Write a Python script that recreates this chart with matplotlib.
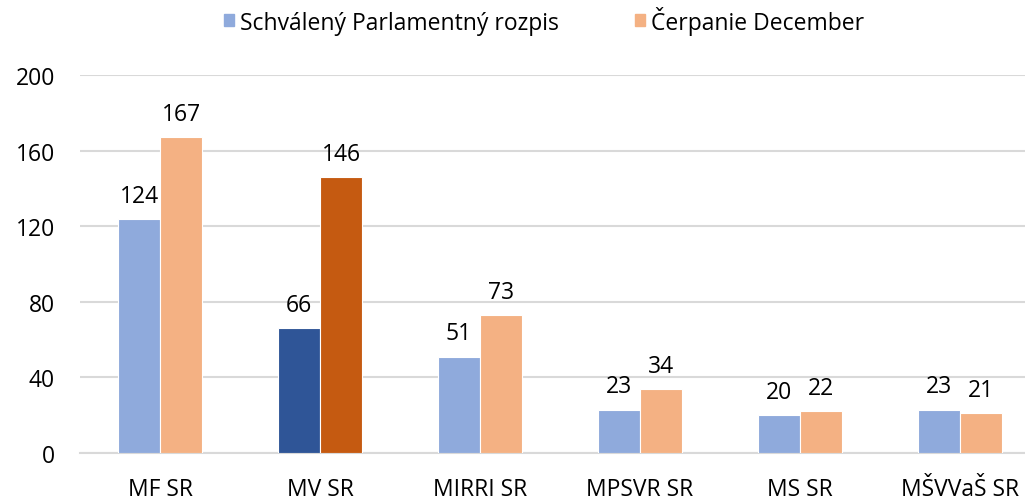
import matplotlib
matplotlib.use("Agg")
import matplotlib.pyplot as plt
import numpy as np

categories = ["MF SR", "MV SR", "MIRRI SR", "MPSVR SR", "MS SR", "MŠVVaŠ SR"]
schvaleny = [124, 66, 51, 23, 20, 23]
cerpanie = [167, 146, 73, 34, 22, 21]
series_names = ["Schválený Parlamentný rozpis", "Čerpanie December"]
yticks = [0, 40, 80, 120, 160, 200]

plt.rcParams['font.family'] = ['Open Sans', 'DejaVu Sans']

light_blue = "#8FAADC"
light_orange = "#F4B183"
dark_blue = "#2F5597"
dark_orange = "#C55A11"
FS = 16.5

fig = plt.figure(figsize=(10.25, 5.02), dpi=100)
ax = fig.add_axes([80/1025, 48/502, 945/1025, 378/502])

x = np.arange(len(categories))
w = 0.2625
c1 = [light_blue] * len(categories)
c2 = [light_orange] * len(categories)
c1[1] = dark_blue
c2[1] = dark_orange
b1 = ax.bar(x - w/2, schvaleny, w, color=c1, edgecolor="white", linewidth=0.8,
            label=series_names[0], zorder=3)
b2 = ax.bar(x + w/2, cerpanie, w, color=c2, edgecolor="white", linewidth=0.8,
            label=series_names[1], zorder=3)
for bars in (b1, b2):
    for r in bars:
        ax.annotate(f"{int(r.get_height())}", (r.get_x() + r.get_width()/2, r.get_height()),
                    xytext=(0, 8), textcoords="offset points", ha="center", va="bottom",
                    fontsize=FS, color="#000000")

ax.set_xlim(-0.5, -0.5 + 945/160)
ax.set_ylim(0, 200)
ax.set_yticks(yticks)
ax.set_yticklabels([str(v) for v in yticks])
ax.set_xticks(x)
ax.set_xticklabels(categories)
ax.tick_params(axis="both", length=0, labelsize=FS, colors="#000000")
ax.tick_params(axis="y", pad=18)
ax.tick_params(axis="x", pad=17)
ax.grid(axis="y", color="#D9D9D9", linewidth=1.5, zorder=0)
for s in ["top", "right", "left"]:
    ax.spines[s].set_visible(False)
ax.spines["bottom"].set_color("#D9D9D9")
ax.spines["bottom"].set_linewidth(1.5)

leg_handles = [plt.Rectangle((0, 0), 1, 1, color=light_blue),
               plt.Rectangle((0, 0), 1, 1, color=light_orange)]
fig.legend(leg_handles, series_names, loc="center", bbox_to_anchor=(544/1025, 1 - 21/502),
           ncol=2, frameon=False, fontsize=FS, handlelength=0.45, handleheight=0.45,
           handletextpad=0.25, columnspacing=3.3, borderpad=0)

fig.savefig("out.png", dpi=100)
